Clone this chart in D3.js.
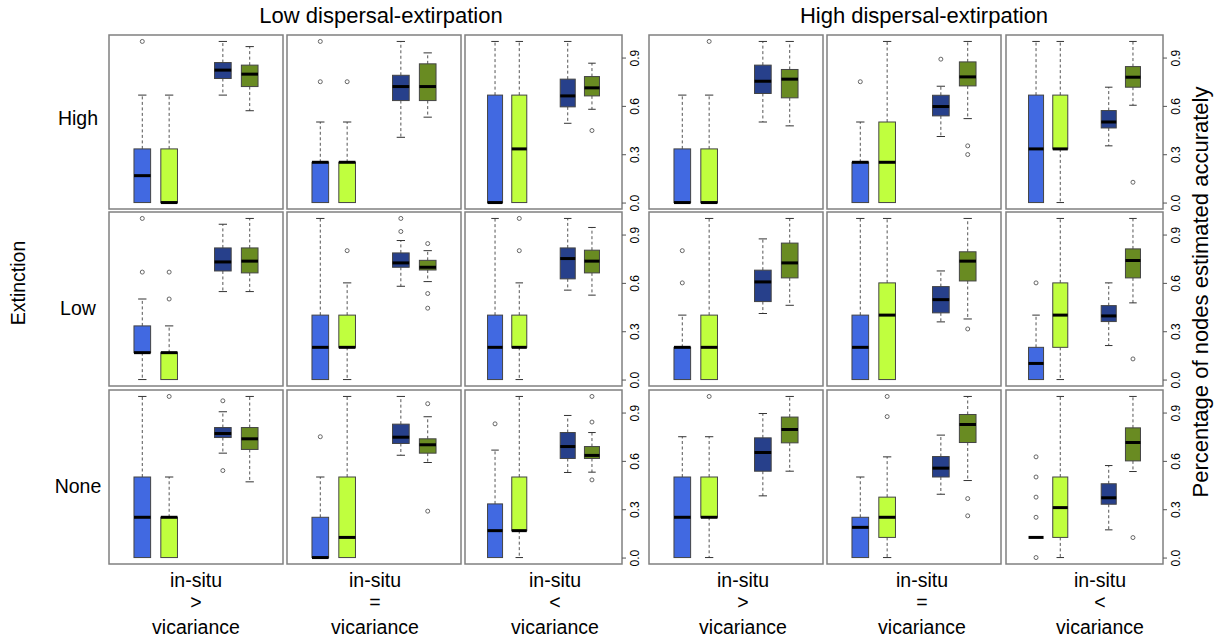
<!DOCTYPE html>
<html lang="en">
<head>
<meta charset="UTF-8" />
<title>Nodes estimated accurately</title>
<style>
  body { margin: 0; background: #fff; }
  svg { display: block; font-family: "Liberation Sans", Arial, sans-serif; }
  .frame { fill: none; stroke: #808080; stroke-width: 1.5px; }
  .whisker { stroke: #555; stroke-dasharray: 3,2.5; }
  .staple { stroke: #333; }
  .box { stroke: #444; stroke-width: 1px; }
  .median { stroke: #000; stroke-width: 3px; }
  .outlier { fill: none; stroke: #666; }
  .axis path { display: none; }
  .axis line { stroke: #555; }
  .axis text { font-size: 12px; fill: #000; }
  .label { font-size: 19.5px; fill: #000; }
</style>
</head>
<body>
<div class="container"></div>
<script src="https://d3js.org/d3.v7.min.js"></script>
<script>
// facets
const extinction = ["High", "Low", "None"];
const dispersal = ["Low dispersal-extirpation", "High dispersal-extirpation"];
const relation = [">", "=", "<", ">", "=", "<"];
const series = ["blue1", "green1", "blue2", "green2"];
const yTicks = [0, 0.3, 0.6, 0.9];

// box stats, one row per panel (High row, Low row, None row; 6 columns each)
const lowerWhisker = [
  [0, 0, 0.667, 0.57], [0, 0, 0.405, 0.53], [0, 0, 0.492, 0.579],
  [0, 0, 0.5, 0.476], [0, 0, 0.41, 0.521], [0, 0, 0.352, 0.604],
  [0, 0, 0.546, 0.546], [0, 0, 0.579, 0.608], [0, 0, 0.555, 0.524],
  [0, 0, 0.41, 0.461], [0, 0, 0.358, 0.376], [0, 0, 0.211, 0.476],
  [0, 0, 0.648, 0.47], [0, 0, 0.635, 0.59], [0, 0, 0.528, 0.53],
  [0, 0, 0.383, 0.536], [0, 0, 0.393, 0.478], [0.125, 0, 0.172, 0.534]
];
const lowerHinge = [
  [0, 0, 0.77, 0.72], [0, 0, 0.633, 0.633], [0, 0, 0.594, 0.662],
  [0, 0, 0.677, 0.65], [0, 0, 0.538, 0.724], [0, 0.333, 0.463, 0.716],
  [0.167, 0, 0.674, 0.662], [0, 0.2, 0.697, 0.68], [0, 0.2, 0.625, 0.662],
  [0, 0, 0.484, 0.631], [0, 0, 0.414, 0.612], [0, 0.2, 0.36, 0.631],
  [0, 0, 0.745, 0.671], [0, 0, 0.708, 0.648], [0, 0.167, 0.615, 0.615],
  [0, 0.25, 0.536, 0.712], [0, 0.125, 0.5, 0.714], [0.125, 0.125, 0.331, 0.6]
];
const medians = [
  [0.167, 0, 0.822, 0.797], [0.25, 0.25, 0.72, 0.72], [0, 0.333, 0.662, 0.712],
  [0, 0, 0.753, 0.766], [0.25, 0.25, 0.596, 0.78], [0.333, 0.333, 0.5, 0.778],
  [0.167, 0.167, 0.73, 0.735], [0.2, 0.2, 0.724, 0.697], [0.2, 0.2, 0.751, 0.735],
  [0.2, 0.2, 0.606, 0.724], [0.2, 0.4, 0.496, 0.735], [0.1, 0.4, 0.395, 0.739],
  [0.25, 0.25, 0.77, 0.737], [0, 0.125, 0.747, 0.7], [0.167, 0.167, 0.689, 0.634],
  [0.25, 0.25, 0.652, 0.795], [0.1875, 0.25, 0.555, 0.826], [0.125, 0.31, 0.371, 0.714]
];
const upperHinge = [
  [0.333, 0.333, 0.869, 0.853], [0.25, 0.25, 0.79, 0.861], [0.667, 0.667, 0.766, 0.782],
  [0.333, 0.333, 0.853, 0.826], [0.25, 0.5, 0.666, 0.873], [0.667, 0.667, 0.571, 0.844],
  [0.333, 0.167, 0.817, 0.817], [0.4, 0.4, 0.786, 0.74], [0.4, 0.4, 0.817, 0.803],
  [0.2, 0.4, 0.679, 0.847], [0.4, 0.6, 0.577, 0.793], [0.2, 0.6, 0.459, 0.811],
  [0.5, 0.25, 0.807, 0.807], [0.25, 0.5, 0.828, 0.737], [0.333, 0.5, 0.776, 0.689],
  [0.5, 0.5, 0.743, 0.872], [0.25, 0.375, 0.627, 0.888], [0.125, 0.5, 0.458, 0.805]
];
const upperWhisker = [
  [0.667, 0.667, 1, 0.968], [0.5, 0.5, 1, 0.929], [1, 1, 1, 0.865],
  [0.667, 0.667, 1, 1], [0.5, 1, 0.722, 1], [1, 1, 0.716, 1],
  [0.5, 0.333, 0.964, 1], [1, 0.6, 0.863, 0.8], [1, 0.6, 1, 0.944],
  [0.4, 1, 0.873, 1], [1, 1, 0.674, 1], [0.4, 1, 0.6, 1],
  [1, 0.5, 0.905, 1], [0.5, 1, 1, 0.874], [0.667, 1, 0.882, 0.776],
  [0.75, 0.75, 0.894, 1], [0.5, 0.625, 0.76, 1], [0.125, 1, 0.571, 1]
];
const outliers = [
  [[1], [], [], []], [[1, 0.75], [0.75], [], []], [[], [], [], [0.447]],
  [[], [1], [], []], [[0.75], [], [0.89], [0.352, 0.298]], [[], [], [], [0.126]],
  [[1, 0.667], [0.667, 0.5], [], []], [[], [0.8], [1, 0.919], [0.844, 0.534, 0.443]], [[], [1, 0.8], [], []],
  [[0.8, 0.6], [], [], []], [[], [], [], [0.314]], [[0.6], [], [], [0.128]],
  [[], [1], [0.973, 0.54], []], [[0.75], [], [], [0.955, 0.288]], [[0.83], [], [], [1, 0.841, 0.482]],
  [[], [1], [], []], [[], [1, 0.875], [], [0.366, 0.259]], [[0.625, 0.5, 0.375, 0.25, 0], [], [], [0.124]]
];

const colors = { blue1: "#4169E1", green1: "#C0FF3E", blue2: "#27408B", green2: "#698B22" };

const w = 1216, h = 640;
const panelLeft = [109, 287, 465, 649, 827, 1006];
const panelWidth = [174, 174, 157, 174, 174, 157];
const rowTop = [35, 212, 390];
const panelHeight = 174;
const positions = [1, 2, 4, 5];
const boxWex = 0.62;

const svg = d3.select(".container")
              .append("svg")
              .attr("width", w)
              .attr("height", h);

svg.append("rect").attr("width", w).attr("height", h).attr("fill", "#fff");

const yScale = d3.scaleLinear()
                 .domain([-0.04, 1.04])
                 .range([panelHeight, 0]);

d3.range(18).forEach(p => {
  const row = Math.floor(p / 6), col = p % 6;
  const xScale = d3.scaleLinear()
                   .domain([-0.24, 6.24])
                   .range([0, panelWidth[col]]);
  const bw = xScale(boxWex) - xScale(0);

  const g = svg.append("g")
               .attr("transform", `translate(${panelLeft[col]},${rowTop[row]})`);

  const boxes = series.map((s, i) => ({
    s: s,
    cx: xScale(positions[i]),
    lw: lowerWhisker[p][i],
    q1: lowerHinge[p][i],
    med: medians[p][i],
    q3: upperHinge[p][i],
    uw: upperWhisker[p][i],
    out: outliers[p][i]
  }));

  const b = g.selectAll(".bx").data(boxes).enter().append("g").attr("class", "bx");

  // whiskers
  b.append("line").attr("class", "whisker")
   .attr("x1", d => d.cx).attr("x2", d => d.cx)
   .attr("y1", d => yScale(d.q3)).attr("y2", d => yScale(d.uw));
  b.append("line").attr("class", "whisker")
   .attr("x1", d => d.cx).attr("x2", d => d.cx)
   .attr("y1", d => yScale(d.q1)).attr("y2", d => yScale(d.lw));
  b.filter(d => d.uw > d.q3).append("line").attr("class", "staple")
   .attr("x1", d => d.cx - bw / 4).attr("x2", d => d.cx + bw / 4)
   .attr("y1", d => yScale(d.uw)).attr("y2", d => yScale(d.uw));
  b.filter(d => d.lw < d.q1).append("line").attr("class", "staple")
   .attr("x1", d => d.cx - bw / 4).attr("x2", d => d.cx + bw / 4)
   .attr("y1", d => yScale(d.lw)).attr("y2", d => yScale(d.lw));

  // box + median
  b.append("rect").attr("class", "box")
   .attr("x", d => d.cx - bw / 2)
   .attr("width", bw)
   .attr("y", d => yScale(d.q3))
   .attr("height", d => yScale(d.q1) - yScale(d.q3))
   .attr("fill", d => colors[d.s]);
  b.append("line").attr("class", "median")
   .attr("x1", d => d.cx - bw / 2).attr("x2", d => d.cx + bw / 2)
   .attr("y1", d => yScale(d.med)).attr("y2", d => yScale(d.med));

  // outliers
  b.selectAll("circle")
   .data(d => d.out.map(v => ({ cx: d.cx, v: v })))
   .enter().append("circle").attr("class", "outlier")
   .attr("cx", d => d.cx).attr("cy", d => yScale(d.v)).attr("r", 2);

  g.append("rect").attr("class", "frame")
   .attr("width", panelWidth[col]).attr("height", panelHeight);

  if (col === 2 || col === 5) {
    const axis = g.append("g").attr("class", "axis")
                  .attr("transform", `translate(${panelWidth[col]},0)`)
                  .call(d3.axisRight(yScale).tickValues(yTicks).tickFormat(d3.format(".1f")).tickSize(4));
    axis.selectAll("text")
        .attr("x", null).attr("dy", null)
        .attr("text-anchor", "middle")
        .attr("transform", "translate(17,0) rotate(-90)");
  }
});

// titles
const titleX = [381, 924];
svg.selectAll(".title").data(dispersal).enter().append("text")
   .attr("class", "label").style("font-size", "22px")
   .attr("x", (d, i) => titleX[i]).attr("y", 23)
   .attr("text-anchor", "middle").text(d => d);

// row labels
const rowLabelY = [125, 315, 493];
svg.selectAll(".rowlab").data(extinction).enter().append("text")
   .attr("class", "label")
   .attr("x", 78).attr("y", (d, i) => rowLabelY[i])
   .attr("text-anchor", "middle").text(d => d);

svg.append("text").attr("class", "label")
   .attr("text-anchor", "middle")
   .attr("transform", "translate(25,283) rotate(-90)")
   .text("Extinction");

svg.append("text").attr("class", "label").style("font-size", "22px")
   .attr("text-anchor", "middle")
   .attr("transform", "translate(1208,292) rotate(-90)")
   .text("Percentage of nodes estimated accurately");

// column labels
const colLabelX = [196, 375, 555, 743, 922, 1100];
relation.forEach((r, i) => {
  const t = svg.append("text").attr("class", "label").attr("text-anchor", "middle");
  [["in-situ", 587], [r, 609], ["vicariance", 634]].forEach(([s, yy]) => {
    t.append("tspan").attr("x", colLabelX[i]).attr("y", yy).text(s);
  });
});
</script>
</body>
</html>
